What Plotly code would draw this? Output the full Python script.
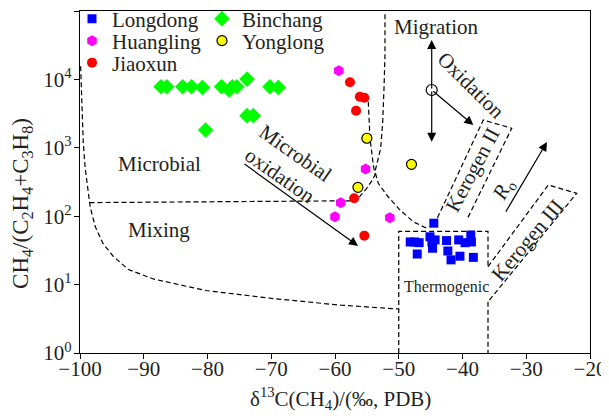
import numpy as np
import plotly.graph_objects as go

# ---------------- data ----------------
longdong_x = [-44.5, -48.2, -47.5, -46.8, -45.1, -44.8, -44.3, -42.5, -40.6, -39.6,
              -38.7, -38.6, -47.1, -44.7, -42.3, -41.8, -40.4, -38.3]
longdong_y = [79, 42, 42, 41, 50, 42, 45, 44, 45, 41, 53, 42, 28, 34, 31, 23, 26, 25]

binchang_x = [-87.3, -86.4, -83.9, -82.5, -80.8, -77.8, -76.6, -76.1, -75.4, -70.2,
              -68.9, -73.8, -73.8, -72.8, -80.3]
binchang_y = [7800, 7800, 7800, 7800, 7600, 7800, 7000, 7800, 7800, 7800,
              7600, 10100, 2950, 2950, 1820]

huangling_x = [-59.4, -55.2, -59.1, -60.0, -51.4]
huangling_y = [13400, 490, 157, 98, 95]

jiaoxun_x = [-57.65, -56.1, -55.4, -56.7, -57.0, -55.4]
jiaoxun_y = [9070, 5590, 5400, 3490, 183, 52]

yonglong_x = [-55.0, -56.4, -48.0]
yonglong_y = [1380, 264, 573]

x_ticks = [-100, -90, -80, -70, -60, -50, -40, -30, -20]
x_tick_text = ["\u2212100", "\u221290", "\u221280", "\u221270", "\u221260",
               "\u221250", "\u221240", "\u221230", "\u221220"]
y_ticks = [1, 10, 100, 1000, 10000, 100000]
y_tick_text = ["10<sup>0</sup>", "10<sup>1</sup>", "10<sup>2</sup>",
               "10<sup>3</sup>", "10<sup>4</sup>", "10<sup>5</sup>"]

x_title = "\u03b4<sup>13</sup>C(CH<sub>4</sub>)/(\u2030, PDB)"
y_title = "CH<sub>4</sub>/(C<sub>2</sub>H<sub>4</sub>+C<sub>3</sub>H<sub>8</sub>)"

# genetic field boundaries (dashed)
left_curve_x = [-99.9, -99.7, -99.5, -99.2, -98.8, -98.4, -97.6, -96.4, -94.8, -92.4,
                -88.5, -80.3, -70.0, -59.1, -50.0]
left_curve_y = [15600, 4000, 1250, 515, 237, 136, 70, 40, 26, 16.6,
                12.1, 8.2, 6.3, 5.0, 4.4]
mix_line_x = [-98.5, -57.3]
mix_line_y = [158, 168]
line_b_x = [-54.78, -54.51, -53.99, -53.73, -54.3, -55.03, -56.34, -57.33]
line_b_y = [4720, 1377, 561, 400, 320, 256, 183, 169]
line_a_x = [-52.16, -52.16, -52.31, -52.52, -52.83, -53.46, -53.73, -53.21, -51.89,
            -49.8, -47.72, -45.62]
line_a_y = [90000, 22700, 7400, 2410, 984, 561, 448, 303, 204, 123, 83, 66.5]
thermo_box_x = [-50, -50, -36, -36]
thermo_box_y = [1, 60, 60, 18.3]
thermo_low_x = [-36, -36]
thermo_low_y = [5.6, 1]
kerogen3_x = [-36, -26.54, -22.09, -36]
kerogen3_y = [18.3, 286, 216, 5.6]
kerogen2_x = [-44.47, -36.74, -32.28, -39.34]
kerogen2_y = [74, 2550, 1930, 88]

# arrows: (tail_x, tail_y, tip_x, tip_y)
migration_origin = (-44.83, 7000)
arrows = [
    (-44.83, 7000, -44.83, 37700),
    (-44.83, 7000, -44.83, 1228),
    (-44.83, 7000, -38.3, 2155),
    (-74.43, 600, -56.39, 36.7),
    (-33.33, 111, -26.75, 1216),
]

FONT = "Liberation Serif"
TXT = "#231f20"
DASH = "5px,3px"
W, H = 609, 416
OFF = 8  # page body margin of the browser

fig = go.Figure()

def dashed(xs, ys):
    fig.add_trace(go.Scatter(x=xs, y=ys, mode="lines", showlegend=False,
                             hoverinfo="skip",
                             line=dict(color="black", width=1.2, dash=DASH)))

for xs, ys in [(left_curve_x, left_curve_y), (mix_line_x, mix_line_y),
               (line_b_x, line_b_y), (line_a_x, line_a_y),
               (thermo_box_x, thermo_box_y), (thermo_low_x, thermo_low_y),
               (kerogen3_x, kerogen3_y), (kerogen2_x, kerogen2_y)]:
    dashed(xs, ys)

fig.add_trace(go.Scatter(x=[migration_origin[0]], y=[migration_origin[1]], mode="markers",
                         showlegend=False, hoverinfo="skip",
                         marker=dict(symbol="circle", size=11, color="white",
                                     line=dict(color="black", width=1.2))))

series = [
    ("Longdong", longdong_x, longdong_y, dict(symbol="square", size=9, color="#0000ff"), "legend"),
    ("Huangling", huangling_x, huangling_y, dict(symbol="hexagon", size=11, color="#ff00ff"), "legend2"),
    ("Jiaoxun", jiaoxun_x, jiaoxun_y, dict(symbol="circle", size=10, color="#ff0000"), "legend3"),
    ("Binchang", binchang_x, binchang_y, dict(symbol="diamond", size=12, color="#00ff00"), "legend4"),
    ("Yonglong", yonglong_x, yonglong_y, dict(symbol="circle", size=10, color="#ffff00",
                                              line=dict(color="black", width=1.2)), "legend5"),
]
for name, xs, ys, mk, lg in series:
    fig.add_trace(go.Scatter(x=xs, y=ys, mode="markers", name=name, legend=lg, marker=mk))

annotations = []
for tx, ty, hx, hy in arrows:
    annotations.append(dict(x=hx, y=np.log10(hy), ax=tx, ay=np.log10(ty),
                            xref="x", yref="y", axref="x", ayref="y",
                            showarrow=True, arrowhead=2, arrowsize=1.5,
                            arrowwidth=1.2, arrowcolor="black", text=""))

def label(text, x, y, size=21, angle=0):
    annotations.append(dict(text=text, x=x, y=np.log10(y), xref="x", yref="y",
                            showarrow=False, textangle=angle,
                            font=dict(family=FONT, size=size, color=TXT)))

label("Migration", -44.2, 10 ** 4.77)
label("Oxidation", -38.7, 10 ** 3.918, angle=45)
label("Microbial<br>oxidation", -67.4, 10 ** 2.75, angle=35)
label("Microbial", -87.6, 10 ** 2.76)
label("Mixing", -87.6, 10 ** 1.80)
label("Thermogenic", -42.5, 10 ** 0.96, size=16)
label("Kerogen II", -38.43, 10 ** 2.675, angle=-62)
label("<i>R</i><sub>o</sub>", -33.6, 10 ** 2.383, angle=-62)
label("Kerogen III", -29.8, 10 ** 1.652, angle=-50)

# axis titles
annotations.append(dict(text=x_title, xref="paper", yref="paper", x=0.51, y=0,
                        yshift=-45, showarrow=False, xanchor="center", yanchor="middle",
                        font=dict(family=FONT, size=21, color=TXT)))
annotations.append(dict(text=y_title, xref="paper", yref="paper", x=0, y=0.436,
                        xshift=-58, showarrow=False, xanchor="center", yanchor="middle",
                        textangle=-90, font=dict(family=FONT, size=23, color=TXT)))

def legend_at(px_left, py_center):
    return dict(x=(px_left - OFF) / W, y=1 - (py_center - OFF) / H,
                xref="container", yref="container",
                xanchor="left", yanchor="middle", bgcolor="rgba(0,0,0,0)",
                borderwidth=0, font=dict(size=21, family=FONT, color=TXT), itemwidth=30)

fig.update_layout(
    width=W, height=H,
    margin=dict(l=80 - OFF, r=W + OFF - 590, t=11 - OFF, b=H + OFF - 353, autoexpand=False),
    paper_bgcolor="white", plot_bgcolor="white",
    font=dict(family=FONT, size=21, color=TXT),
    annotations=annotations,
    legend=legend_at(72, 19),
    legend2=legend_at(72, 41),
    legend3=legend_at(72, 63),
    legend4=legend_at(202, 19),
    legend5=legend_at(202, 41),
)
fig.update_xaxes(range=[-100, -20], tickvals=x_ticks, ticktext=x_tick_text,
                 automargin=False, ticklabelstandoff=-8,
                 showgrid=False, zeroline=False, showline=True, linecolor="black",
                 linewidth=1.2, mirror=True, ticks="outside", ticklen=5,
                 tickcolor="black", tickfont=dict(size=21, family=FONT, color=TXT))
fig.update_yaxes(type="log", range=[0, 5], tickvals=y_ticks, ticktext=y_tick_text,
                 automargin=False, ticklabelstandoff=-2,
                 showgrid=False, zeroline=False, showline=True, linecolor="black",
                 linewidth=1.2, mirror=True, ticks="outside", ticklen=5,
                 tickcolor="black", tickfont=dict(size=21, family=FONT, color=TXT))

fig.write_html("out.html")
